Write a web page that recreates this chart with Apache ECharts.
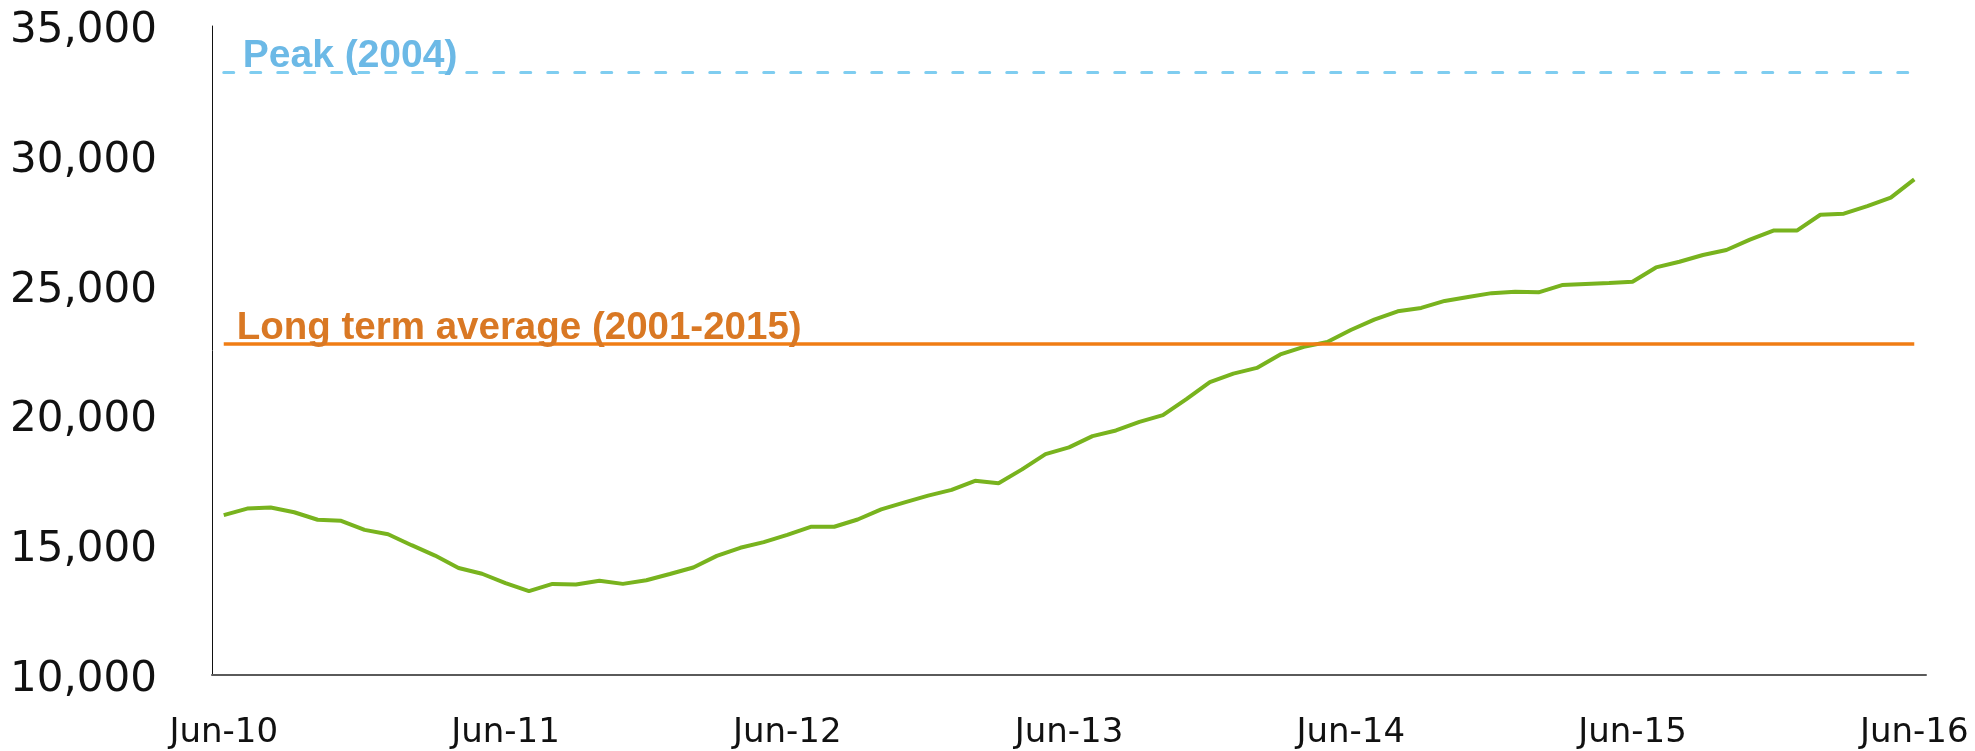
<!DOCTYPE html>
<html>
<head>
<meta charset="utf-8">
<script src="https://cdn.jsdelivr.net/npm/echarts@6/dist/echarts.min.js"></script>
<style>
html,body{margin:0;padding:0;background:#fff;}
#chart{width:1975px;height:751px;}
</style>
</head>
<body>
<div id="chart"></div>
<script>
// Months Jun-10 .. Jun-16
const months = [
  'Jun-10','Jul-10','Aug-10','Sep-10','Oct-10','Nov-10','Dec-10','Jan-11','Feb-11','Mar-11','Apr-11','May-11',
  'Jun-11','Jul-11','Aug-11','Sep-11','Oct-11','Nov-11','Dec-11','Jan-12','Feb-12','Mar-12','Apr-12','May-12',
  'Jun-12','Jul-12','Aug-12','Sep-12','Oct-12','Nov-12','Dec-12','Jan-13','Feb-13','Mar-13','Apr-13','May-13',
  'Jun-13','Jul-13','Aug-13','Sep-13','Oct-13','Nov-13','Dec-13','Jan-14','Feb-14','Mar-14','Apr-14','May-14',
  'Jun-14','Jul-14','Aug-14','Sep-14','Oct-14','Nov-14','Dec-14','Jan-15','Feb-15','Mar-15','Apr-15','May-15',
  'Jun-15','Jul-15','Aug-15','Sep-15','Oct-15','Nov-15','Dec-15','Jan-16','Feb-16','Mar-16','Apr-16','May-16',
  'Jun-16'
];
const values = [
  16160,16410,16450,16270,15980,15940,15590,15420,15000,14600,14120,13900,
  13540,13230,13510,13490,13630,13510,13650,13890,14140,14590,14900,15120,
  15400,15710,15710,15990,16380,16650,16910,17130,17480,17390,17920,18510,
  18770,19200,19420,19750,20010,20630,21280,21610,21830,22350,22640,22830,
  23290,23690,24010,24140,24410,24560,24710,24760,24740,25020,25060,25100,
  25150,25700,25920,26180,26370,26770,27120,27120,27730,27770,28060,28390,
  29090
];
const peakValue = 33230;
const peakLabel = 'Peak (2004)';
const avgValue = 22750;
const avgLabel = 'Long term average (2001-2015)';
const yTicks = [10000, 15000, 20000, 25000, 30000, 35000];

const chart = echarts.init(document.getElementById('chart'), null, {renderer: 'canvas'});
const fmt = v => String(v).replace(/\B(?=(\d{3})+(?!\d))/g, ',');
const first = months[0], last = months[months.length - 1];

chart.setOption({
  animation: false,
  backgroundColor: '#ffffff',
  grid: {left: 212, right: 49, top: 26, bottom: 76, containLabel: false},
  xAxis: {
    type: 'category',
    data: months,
    boundaryGap: true,
    axisLine: {show: true, lineStyle: {color: '#5a5a5a', width: 2}},
    axisTick: {show: false},
    axisLabel: {
      interval: 11, margin: 41, color: '#111',
      fontFamily: 'DejaVu Sans', fontSize: 34
    },
    splitLine: {show: false}
  },
  yAxis: {
    type: 'value',
    min: yTicks[0], max: yTicks[yTicks.length - 1], interval: 5000,
    axisLine: {show: true, lineStyle: {color: '#111', width: 1}},
    axisTick: {show: false},
    splitLine: {show: false},
    axisLabel: {
      margin: 55, color: '#111',
      fontFamily: 'DejaVu Sans', fontSize: 42,
      verticalAlign: 'top', lineHeight: 10,
      formatter: v => fmt(v)
    }
  },
  series: [{
    type: 'line',
    data: values,
    symbol: 'none',
    lineStyle: {color: '#78b31e', width: 4},
    z: 3,
    markLine: {
      silent: true,
      symbol: ['none', 'none'],
      data: [
        [
          {coord: [first, peakValue],
           lineStyle: {color: '#7fcdf0', width: 3, type: [10, 17], cap: 'round'},
           label: {show: true, formatter: peakLabel, position: 'insideStartTop',
                   distance: [19, -4], color: '#6cb9e6', fontWeight: 'bold',
                   fontFamily: 'Liberation Sans', fontSize: 39}},
          {coord: [last, peakValue]}
        ],
        [
          {coord: [first, avgValue],
           lineStyle: {color: '#f07d14', width: 3.5, type: 'solid'},
           label: {show: true, formatter: avgLabel, position: 'insideStartTop',
                   distance: [13, -4], color: '#d97824', fontWeight: 'bold',
                   fontFamily: 'Liberation Sans', fontSize: 38.5}},
          {coord: [last, avgValue]}
        ]
      ]
    }
  }]
});
</script>
</body>
</html>
